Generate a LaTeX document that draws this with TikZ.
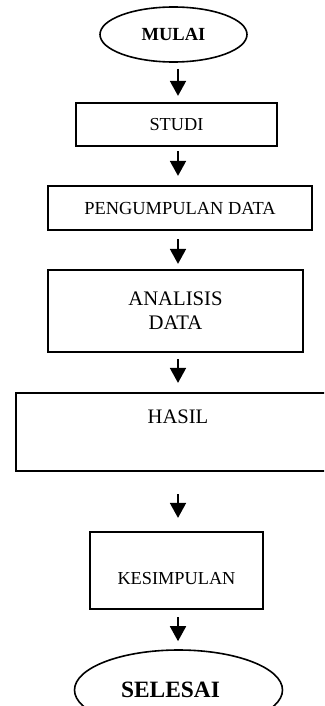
\documentclass[tikz,border=0pt]{standalone}
\usepackage{fontspec}
\setmainfont{Liberation Serif}
\usepackage{tikz}
\usetikzlibrary{arrows.meta}
\usetikzlibrary{shapes.geometric}
\tikzset{>={Triangle[width=16pt,length=15pt]}}
\tikzstyle{terminal} = [ellipse, draw, line width=1.6pt, inner sep=0pt]
\tikzstyle{proses} = [rectangle, draw, line width=2.2pt, inner sep=0pt, align=center]
\tikzstyle{alir} = [->, line width=1.8pt]

\begin{document}
\begin{tikzpicture}[x=1pt, y=-1pt]
\useasboundingbox (0,0) rectangle (324,706);
\clip (0,0) rectangle (324,706);
\coordinate (spine) at (178,0);
\node [terminal, minimum width=147pt, minimum height=55pt, font=\bfseries\fontsize{18.5}{22}\selectfont] (mulai) at (173.5,34.5) {MULAI};
\node [proses, minimum width=201pt, minimum height=43pt, font=\fontsize{18.3}{22}\selectfont] (studi) at (176.5,124.5) {STUDI};
\node [proses, minimum width=264pt, minimum height=44pt, font=\fontsize{18.4}{22}\selectfont] (kumpul) at (180,208) {PENGUMPULAN DATA};
\node [proses, minimum width=255pt, minimum height=82pt, font=\fontsize{20.7}{24}\selectfont] (analisis) at (175.5,311) {ANALISIS\\DATA};
\node [proses, minimum width=324pt, minimum height=78pt, text depth=30pt, font=\fontsize{20.6}{24}\selectfont] (hasil) at (178,432) {HASIL};
\node [proses, minimum width=173pt, minimum height=77pt, text height=29pt, font=\fontsize{18.3}{22}\selectfont] (simpulan) at (176.5,570.5) {KESIMPULAN};
\node [terminal, minimum width=208pt, minimum height=80pt, font=\bfseries\fontsize{23.4}{28}\selectfont] (selesai) at (178.5,690) {SELESAI\hspace*{16pt}};
% panah antar langkah
\draw [alir, shorten <=6pt, shorten >=6pt] (mulai.south -| spine) -- (studi.north -| spine);
\draw [alir, shorten <=4pt, shorten >=9pt] (studi.south -| spine) -- (kumpul.north -| spine);
\draw [alir, shorten <=8pt, shorten >=5pt] (kumpul.south -| spine) -- (analisis.north -| spine);
\draw [alir, shorten <=6pt, shorten >=9pt] (analisis.south -| spine) -- (hasil.north -| spine);
\draw [alir, shorten <=22pt, shorten >=13pt] (hasil.south -| spine) -- (simpulan.north -| spine);
\draw [alir, shorten <=7pt, shorten >=8pt] (simpulan.south -| spine) -- (selesai.north -| spine);
\end{tikzpicture}
\end{document}
